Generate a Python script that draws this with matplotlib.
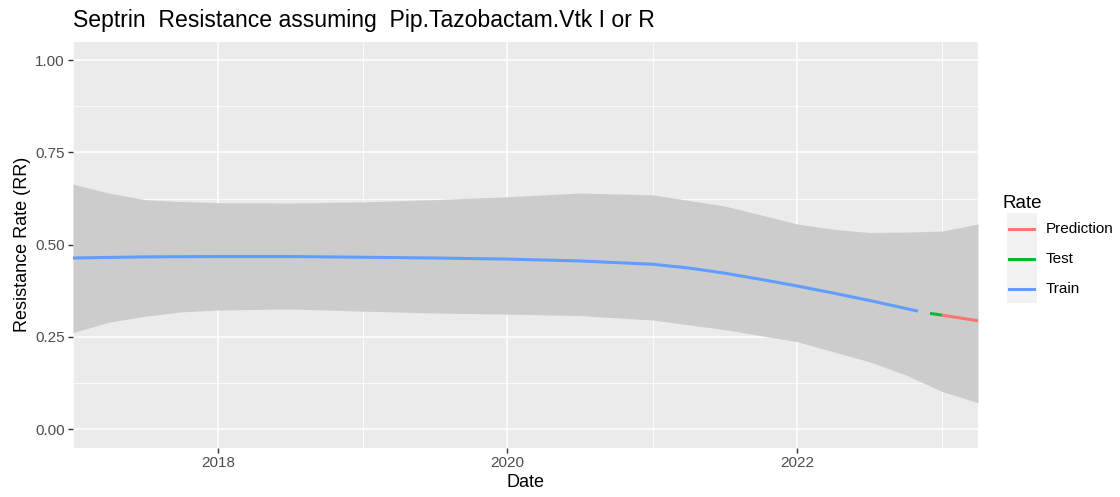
import numpy as np
import pandas as pd
from matplotlib import pyplot as plt
from matplotlib.lines import Line2D
from matplotlib.patches import Rectangle
import matplotlib.dates as mdates

train_dates = pd.to_datetime(['2017-01-01', '2017-07-01', '2018-01-01', '2018-07-01', '2019-01-01',
                              '2019-07-01', '2020-01-01', '2020-07-01', '2021-01-01', '2021-04-01',
                              '2021-07-01', '2021-10-01', '2022-01-01', '2022-04-01', '2022-07-01',
                              '2022-11-01'])
train_rate = [0.464, 0.467, 0.468, 0.468, 0.466, 0.464, 0.461, 0.456, 0.447, 0.437,
              0.423, 0.406, 0.388, 0.369, 0.349, 0.320]

test_dates = pd.to_datetime(['2022-12-01', '2023-01-01'])
test_rate = [0.314, 0.309]

pred_dates = pd.to_datetime(['2023-01-01', '2023-04-01'])
pred_rate = [0.309, 0.294]

band_dates = pd.to_datetime(['2017-01-01', '2017-04-01', '2017-07-01', '2017-10-01', '2018-01-01',
                             '2018-07-01', '2019-01-01', '2019-07-01', '2020-01-01', '2020-07-01',
                             '2021-01-01', '2021-07-01', '2022-01-01', '2022-04-01', '2022-07-01',
                             '2022-10-01', '2023-01-01', '2023-04-01'])
band_upper = [0.664, 0.640, 0.622, 0.617, 0.614, 0.613, 0.616, 0.622, 0.630, 0.640,
              0.635, 0.605, 0.556, 0.542, 0.533, 0.534, 0.537, 0.556]
band_lower = [0.262, 0.290, 0.306, 0.318, 0.323, 0.326, 0.320, 0.315, 0.312, 0.308,
              0.296, 0.270, 0.237, 0.210, 0.183, 0.147, 0.102, 0.072]

series = [('Prediction', '#F8766D'), ('Test', '#00BA38'), ('Train', '#619CFF')]

plt.rcParams['font.family'] = ['Liberation Sans', 'DejaVu Sans']

fig = plt.figure(figsize=(11.2, 4.97), dpi=100)
ax = fig.add_axes([73 / 1120, 1 - 447.7 / 497, (978 - 73) / 1120, (447.7 - 41.7) / 497])
ax.set_facecolor('#EBEBEB')

ax.fill_between(band_dates, band_lower, band_upper, color='#CCCCCC', lw=0, zorder=2)
lw = 2.2
ax.plot(train_dates, train_rate, color='#619CFF', lw=lw, zorder=3, solid_capstyle='butt')
ax.plot(test_dates, test_rate, color='#00BA38', lw=lw, zorder=3, solid_capstyle='butt')
ax.plot(pred_dates, pred_rate, color='#F8766D', lw=lw, zorder=3, solid_capstyle='butt')

ax.set_xlim(pd.Timestamp('2017-01-01'), pd.Timestamp('2023-04-01'))
ax.set_ylim(-0.05, 1.05)
ax.set_yticks([0, 0.25, 0.5, 0.75, 1.0])
ax.set_yticklabels(['0.00', '0.25', '0.50', '0.75', '1.00'])
ax.set_yticks([0.125, 0.375, 0.625, 0.875], minor=True)
ax.xaxis.set_major_locator(mdates.YearLocator(2))
ax.xaxis.set_major_formatter(mdates.DateFormatter('%Y'))
ax.xaxis.set_minor_locator(mdates.YearLocator(1))

ax.grid(which='major', color='white', lw=1.1, zorder=1)
ax.grid(which='minor', color='white', lw=0.55, zorder=1)
ax.set_axisbelow(True)
for s in ax.spines.values():
    s.set_visible(False)
ax.tick_params(which='major', length=3.5, width=1.0, color='#333333', labelcolor='#4D4D4D',
               labelsize=11, pad=2.5)
ax.tick_params(which='minor', length=0)

ax.set_xlabel('Date', fontsize=13, labelpad=3)
ax.set_ylabel('Resistance Rate (RR)', fontsize=13, labelpad=3)
fig.text(73 / 1120, 1 - 21 / 497, 'Septrin  Resistance assuming  Pip.Tazobactam.Vtk I or R',
         fontsize=16.6, va='center', ha='left')

# legend
fig.text(1003 / 1120, 1 - 203 / 497, 'Rate', fontsize=13.5, va='center', ha='left')
fig.patches.append(Rectangle((1007 / 1120, 1 - 303 / 497), 30 / 1120, 90 / 497,
                             transform=fig.transFigure, color='#F2F2F2', lw=0))
for i, (name, col) in enumerate(series):
    yk = 1 - (229 + i * 30) / 497
    fig.add_artist(Line2D([1009 / 1120, 1034 / 1120], [yk, yk], color=col, lw=lw,
                          transform=fig.transFigure))
    fig.text(1046 / 1120, yk, name, fontsize=11, va='center', ha='left')

fig.savefig('out.png', dpi=100)
